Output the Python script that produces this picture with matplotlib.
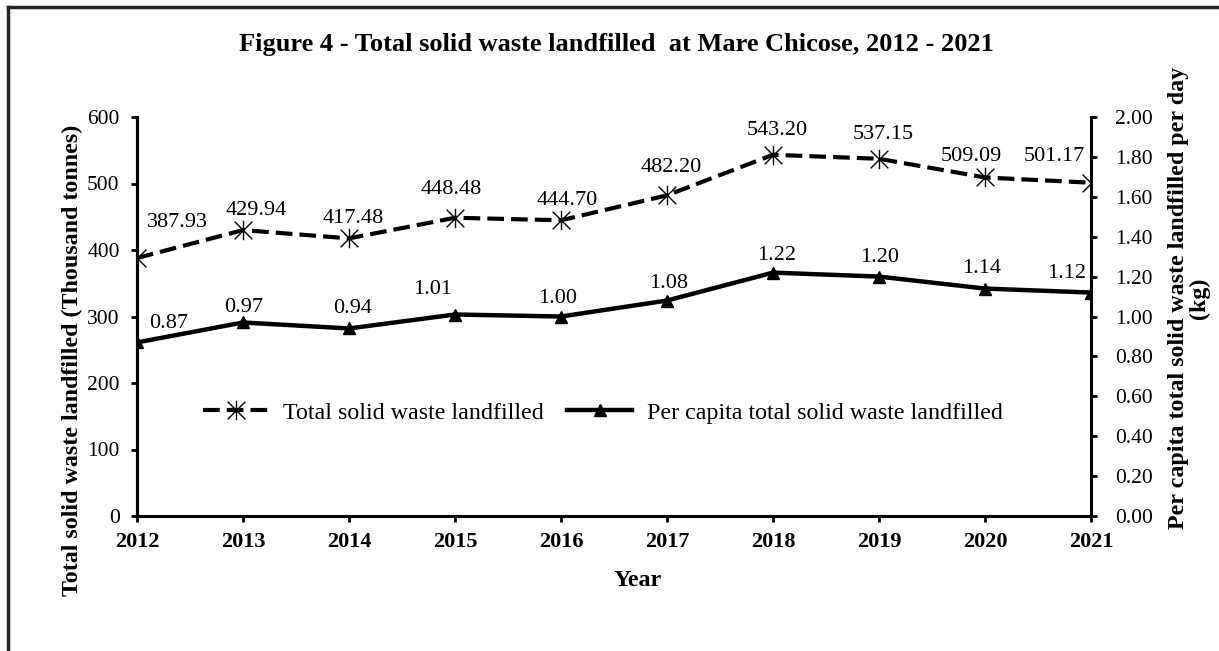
import numpy as np
import matplotlib
matplotlib.use('Agg')
import matplotlib.pyplot as plt
from matplotlib.path import Path
from matplotlib.lines import Line2D

plt.rcParams['font.family'] = ['Liberation Serif', 'DejaVu Serif']

years = [2012, 2013, 2014, 2015, 2016, 2017, 2018, 2019, 2020, 2021]
total_waste = [387.93, 429.94, 417.48, 448.48, 444.70, 482.20, 543.20, 537.15, 509.09, 501.17]
per_capita = [0.87, 0.97, 0.94, 1.01, 1.00, 1.08, 1.22, 1.20, 1.14, 1.12]

title = 'Figure 4 - Total solid waste landfilled  at Mare Chicose, 2012 - 2021'
left_label = 'Total solid waste landfilled (Thousand tonnes)'
right_label = 'Per capita total solid waste landfilled per day\n(kg)'
legend_labels = ['Total solid waste landfilled', 'Per capita total solid waste landfilled']

# label offsets in pixels (dx, dy up), as excel placed them
tot_off = [(40, 36), (13, 20), (4, 20), (-4, 28), (6, 20), (4, 28), (4, 24), (4, 24), (-14, 21), (-37, 26)]
pc_off = [(32, 19), (1, 15), (4, 20), (-22, 25), (-3, 18), (2, 17), (4, 17), (1, 19), (-3, 20), (-24, 19)]

# excel-like star marker: an X with a vertical bar
star = Path([(-1, -1), (1, 1), (-1, 1), (1, -1), (0, -1.1), (0, 1.1)],
            [Path.MOVETO, Path.LINETO, Path.MOVETO, Path.LINETO, Path.MOVETO, Path.LINETO])

W, H = 1219, 651
fig = plt.figure(figsize=(W/100, H/100), dpi=100)
ax = fig.add_axes([137/W, 1-516/H, (1091-137)/W, (516-117)/H])
ax2 = ax.twinx()

l1, = ax.plot(years, total_waste, color='black', lw=3, linestyle=(0, (4, 1.7)),
              marker=star, markersize=14, markeredgewidth=1.0, markerfacecolor='none', zorder=3)
l2, = ax2.plot(years, per_capita, color='black', lw=3.2, marker='^', markersize=8, zorder=3)

ax.set_xlim(2012, 2021)
ax.set_ylim(0, 600)
ax.set_yticks(np.arange(0, 601, 100))
ax2.set_ylim(0, 2.0)
ax2.set_yticks(np.arange(0, 2.01, 0.2))
ax2.set_yticklabels(['%.2f' % v for v in np.arange(0, 2.01, 0.2)])
ax.set_xticks(years)
ax.set_xticklabels([str(y) for y in years], fontweight='bold')

for a in (ax, ax2):
    a.spines['top'].set_visible(False)
    for s in a.spines.values():
        s.set_linewidth(2.2)
    a.tick_params(axis='both', width=2, length=4.5, labelsize=16, direction='out')
    a.set_facecolor('none')
ax.spines['right'].set_visible(False)
ax.tick_params(axis='x', pad=7)
ax.tick_params(axis='y', pad=8, labelsize=15.5)
ax2.tick_params(axis='y', pad=13, labelsize=15.5)

for x, v, (dx, dy) in zip(years, total_waste, tot_off):
    ax.annotate('%.2f' % v, (x, v), xytext=(dx*0.72, dy*0.72), textcoords='offset points',
                ha='center', va='center', fontsize=16)
for x, v, (dx, dy) in zip(years, per_capita, pc_off):
    ax2.annotate('%.2f' % v, (x, v), xytext=(dx*0.72, dy*0.72), textcoords='offset points',
                 ha='center', va='center', fontsize=16)

fig.text(616/W, 1-44/H, title, ha='center', va='center', fontsize=19, fontweight='bold')
fig.text(72/W, 1-360/H, left_label, ha='center', va='center', rotation=90,
         fontsize=17.3, fontweight='bold')
fig.text(1189/W, 1-298/H, right_label, ha='center', va='center', rotation=90,
         fontsize=17.3, fontweight='bold', multialignment='center', linespacing=1.0)
fig.text(638/W, 1-581/H, 'Year', ha='center', va='center', fontsize=17.3, fontweight='bold')

fig.legend([l1, l2], legend_labels, loc='center', bbox_to_anchor=(603/W, 1-413/H),
           ncol=2, frameon=False, fontsize=17.3, handlelength=2.7, columnspacing=1.0,
           handletextpad=0.6)

# partial outer frame
fig.add_artist(Line2D([8/W, 1], [1-7/H, 1-7/H], color='#262626', lw=2.5,
                      transform=fig.transFigure))
fig.add_artist(Line2D([8/W, 8/W], [0, 1-7/H], color='#262626', lw=2.5,
                      transform=fig.transFigure))

fig.savefig('out.png', dpi=100)
